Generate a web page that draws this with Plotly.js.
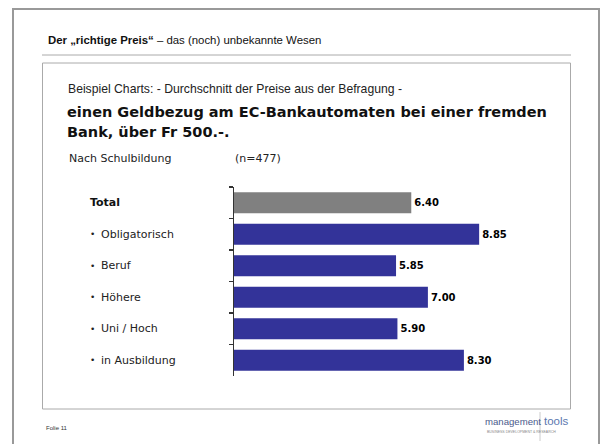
<!DOCTYPE html>
<html>
<head>
<meta charset="utf-8">
<script src="https://cdn.plot.ly/plotly-3.0.1.min.js"></script>
<style>html,body{margin:0;padding:0;background:#fff;}#chart{width:601px;height:444px;}</style>
</head>
<body>
<div id="chart"></div>
<script>
// ---- data ----
var categories = ['Total', 'Obligatorisch', 'Beruf', 'Höhere', 'Uni / Hoch', 'in Ausbildung'];
var values = [6.40, 8.85, 5.85, 7.00, 5.90, 8.30];
var headerBold = 'Der „richtige Preis“';
var headerRest = ' – das (noch) unbekannte Wesen';
var subtitle = 'Beispiel Charts: - Durchschnitt der Preise aus der Befragung -';
var titleLine1 = 'einen Geldbezug am EC-Bankautomaten bei einer fremden';
var titleLine2 = 'Bank, über Fr 500.-.';
var groupLabel = 'Nach Schulbildung';
var sampleLabel = '(n=477)';
var footer = 'Folie 11';

// ---- geometry helpers (pixel -> paper) ----
var W = 601, H = 444;
var M = {l: 234, r: 90, t: 187, b: 68};
var PW = W - M.l - M.r, PH = H - M.t - M.b;
function px(x) { return (x - M.l) / PW; }
function py(y) { return 1 - (y - M.t) / PH; }

var GRAY = '#808080', BLUE = '#333399';
var colors = categories.map(function (c, i) { return i === 0 ? GRAY : BLUE; });

var trace = {
  type: 'bar',
  orientation: 'h',
  y: categories,
  x: values,
  marker: {color: colors},
  texttemplate: '%{x:.2f}',
  textposition: 'outside',
  textfont: {family: 'DejaVu Sans', size: 10, color: '#000', weight: 'bold'},
  cliponaxis: false,
  hoverinfo: 'none'
};

var annotations = [];
function txt(x, y, text, font, extra) {
  var a = {xref: 'paper', yref: 'paper', x: px(x), y: py(y), text: text,
    showarrow: false, xanchor: 'left', yanchor: 'middle', font: font};
  if (extra) for (var k in extra) a[k] = extra[k];
  annotations.push(a);
}
txt(46, 40, '<b>' + headerBold + '</b>' + headerRest, {family: 'Liberation Sans', size: 11.4, color: '#111'});
txt(66, 89, subtitle, {family: 'Liberation Sans', size: 12.2, color: '#222'});
txt(65, 112, '<b>' + titleLine1 + '</b>', {family: 'DejaVu Sans', size: 14.5, color: '#111'});
txt(65, 132, '<b>' + titleLine2 + '</b>', {family: 'DejaVu Sans', size: 14.5, color: '#111'});
txt(67, 158, groupLabel, {family: 'DejaVu Sans', size: 11, color: '#222'});
txt(233, 158, sampleLabel, {family: 'DejaVu Sans', size: 11, color: '#222'});
txt(44, 428, footer, {family: 'Liberation Sans', size: 6, color: '#333'});

// category labels, positioned on the category axis
categories.forEach(function (c, i) {
  if (i === 0) {
    annotations.push({xref: 'paper', yref: 'y', x: px(88), y: c, text: '<b>' + c + '</b>',
      showarrow: false, xanchor: 'left', yanchor: 'middle',
      font: {family: 'DejaVu Sans', size: 11, color: '#111'}});
  } else {
    annotations.push({xref: 'paper', yref: 'y', x: px(88), y: c, text: '•',
      showarrow: false, xanchor: 'left', yanchor: 'middle',
      font: {family: 'DejaVu Sans', size: 9, color: '#222'}});
    annotations.push({xref: 'paper', yref: 'y', x: px(99), y: c, text: c,
      showarrow: false, xanchor: 'left', yanchor: 'middle',
      font: {family: 'DejaVu Sans', size: 11, color: '#222'}});
  }
});

// logo
txt(483, 421, 'management', {family: 'Liberation Sans', size: 9.6, color: '#4a5a8c'});
txt(542, 421, 'tools', {family: 'Liberation Sans', size: 11.5, color: '#5b78b0'});
txt(485, 432, 'BUSINESS DEVELOPMENT &amp; RESEARCH', {family: 'Liberation Sans', size: 3.5, color: '#888'});

var shapes = [
  // outer frame
  {type: 'line', xref: 'paper', yref: 'paper', x0: px(13), x1: px(13), y0: py(9), y1: py(450), line: {color: '#999', width: 2}},
  {type: 'line', xref: 'paper', yref: 'paper', x0: px(12), x1: px(600), y0: py(9), y1: py(9), line: {color: '#999', width: 2}},
  {type: 'line', xref: 'paper', yref: 'paper', x0: px(599), x1: px(599), y0: py(9), y1: py(450), line: {color: '#999', width: 2}},
  // header rule
  {type: 'line', xref: 'paper', yref: 'paper', x0: px(42), x1: px(571), y0: py(55), y1: py(55), line: {color: '#aaa', width: 1}},
  // inner box
  {type: 'rect', xref: 'paper', yref: 'paper', x0: px(42.5), x1: px(570.5), y0: py(63), y1: py(409), line: {color: '#aaa', width: 1}},
  // logo divider
  {type: 'line', xref: 'paper', yref: 'paper', x0: px(540), x1: px(540), y0: py(412), y1: py(441), line: {color: '#ccc', width: 1}}
];

var layout = {
  width: W, height: H,
  margin: M,
  paper_bgcolor: '#fff', plot_bgcolor: '#fff',
  showlegend: false,
  bargap: 0.33,
  xaxis: {range: [0, 10], showline: false, showgrid: false, zeroline: false, showticklabels: false, ticks: ''},
  yaxis: {type: 'category', autorange: 'reversed', showline: true, linecolor: '#333', linewidth: 1.5,
    ticks: 'outside', ticklen: 4, tickcolor: '#333', tickwidth: 1.5, tickson: 'boundaries',
    showticklabels: false, showgrid: false, zeroline: false},
  annotations: annotations,
  shapes: shapes
};

Plotly.newPlot('chart', [trace], layout, {staticPlot: true, displayModeBar: false});
</script>
</body>
</html>
